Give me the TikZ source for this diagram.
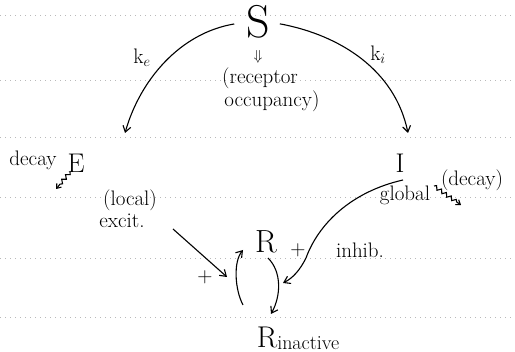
\documentclass[tikz,border=0pt]{standalone}
\usetikzlibrary{arrows.meta,decorations.pathmorphing}
\begin{document}
\begin{tikzpicture}[x=1pt,y=-1pt,
  arr/.style={-{Straight Barb[length=6pt,width=8pt]}, line width=1.1pt},
  lbl/.style={font=\fontsize{21}{23}\selectfont, inner sep=0pt},
  big/.style={inner sep=0pt},
  rule/.style={gray!55, line width=0.5pt, dash pattern=on 1pt off 4pt},
  wav/.style={line width=1.1pt, -{Straight Barb[length=4pt,width=6pt]}, decorate,
    decoration={snake, amplitude=1.8pt, segment length=6pt, post length=4pt}}]
\useasboundingbox (0,0) rectangle (515,352);
\foreach \y in {15,80,137,197,258,317} \draw[rule] (0,\y) -- (515,\y);
% main nodes
\node[big, font=\fontsize{46}{46}\selectfont] (S) at (258,22) {S};
\node[big, font=\fontsize{27}{27}\selectfont] (E) at (76,163) {E};
\node[big, font=\fontsize{27}{27}\selectfont] (I) at (400,163) {I};
\node[big, font=\fontsize{32}{32}\selectfont] (R) at (266,242) {R};
\node[big] (Rin) at (298,338) {\fontsize{30}{30}\selectfont R\raisebox{-2pt}{\fontsize{20}{20}\selectfont inactive}};
% labels
\node[lbl] (ke) at (142,58) {k$_e$};
\node[lbl] (ki) at (378,55) {k$_i$};
\node[lbl, font=\fontsize{14}{14}\selectfont] (dn) at (258,57) {$\Downarrow$};
\node[lbl] (rec) at (260,78) {(receptor};
\node[lbl] (occ) at (272,101) {occupancy)};
\node[lbl] (decE) at (33,160) {decay};
\node[lbl] (loc) at (130,200) {(local)};
\node[lbl] (exc) at (122,221) {excit.};
\node[lbl] (decI) at (472,180) {(decay)};
\node[lbl] (glob) at (405,195) {global};
\node[lbl] (inh) at (360,250) {inhib.};
\node[lbl] (p1) at (205,277) {+};
\node[lbl] (p2) at (298,250) {+};
% coordinates
\coordinate (eTip) at (125,133);
\coordinate (iTip) at (408,133);
\coordinate (xS) at (173,229);
\coordinate (xT) at (227,277);
\coordinate (rOut) at (268,258);
\coordinate (rinT) at (271,314);
\coordinate (rinS) at (243,305);
\coordinate (rT) at (243,250);
\coordinate (hS) at (403,180);
\coordinate (hT) at (283,283);
\coordinate (weS) at (70,172);
\coordinate (weT) at (56,189);
\coordinate (wiS) at (434,186);
\coordinate (wiT) at (461,205);
% connectors
\draw[arr, shorten <=12pt] (S.west) .. controls (180,33) and (140,80) .. (eTip);
\draw[arr, shorten <=10pt] (S.east) .. controls (340,35) and (395,70) .. (iTip);
\draw[arr] (xS) -- (xT);
\draw[arr] (rOut) .. controls (282,272) and (281,296) .. (rinT);
\draw[arr] (rinS) .. controls (235,290) and (233,262) .. (rT);
\draw[arr] (hS) .. controls (350,192) and (318,225) .. (306,258) .. controls (300,270) and (293,278) .. (hT);
\draw[wav] (weS) -- (weT);
\draw[wav] (wiS) -- (wiT);
\end{tikzpicture}
\end{document}
